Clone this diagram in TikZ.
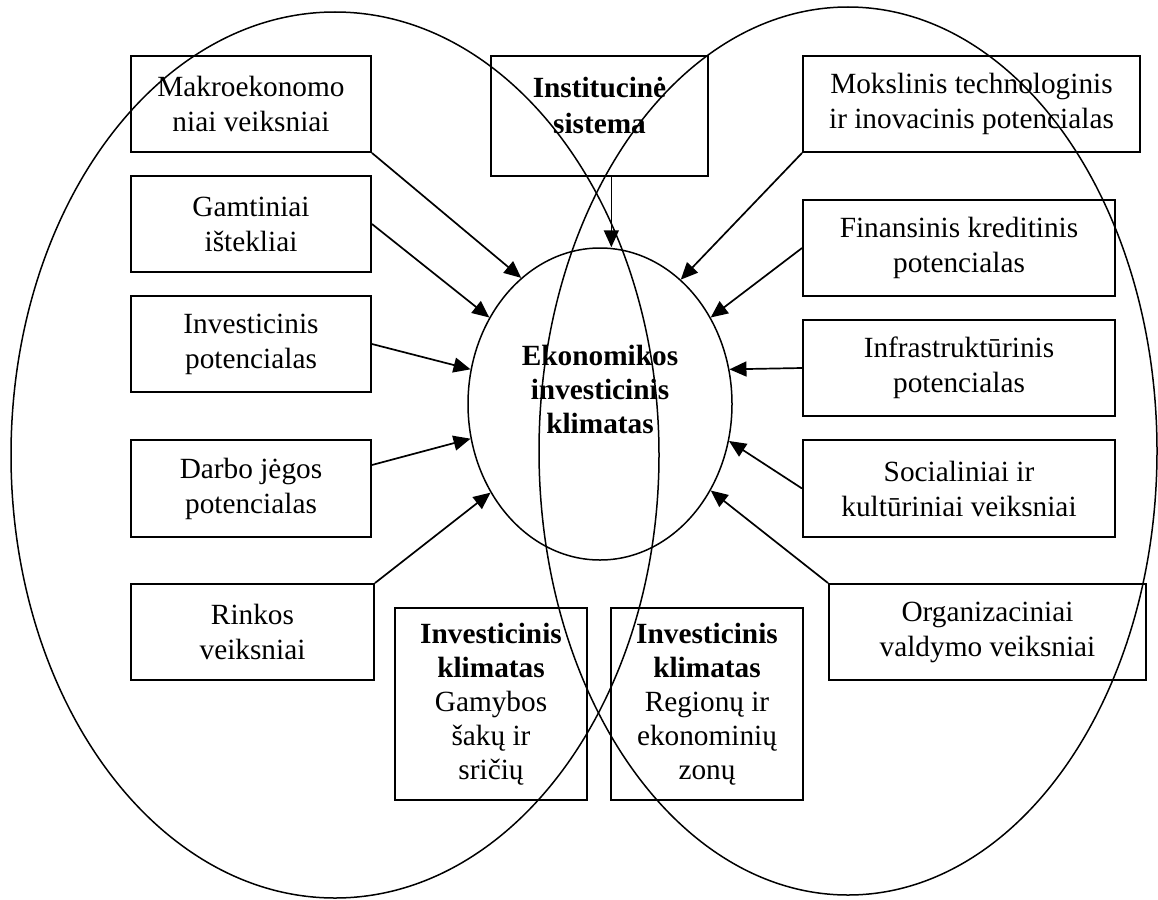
\documentclass[tikz,border=0pt]{standalone}
\usepackage{fontspec}
\setmainfont{Liberation Serif}
\usetikzlibrary{arrows.meta,shapes.geometric}
\begin{document}
\begin{tikzpicture}[x=1pt,y=-1pt,
  txt/.style={inner sep=0pt,align=center,font=\fontsize{29.3}{35}\selectfont},
  box/.style={draw,line width=1.9pt,txt},
  arr/.style={line width=1.7pt,-{Triangle[length=17pt,width=15pt]}},
  big/.style={draw,ellipse,line width=1.5pt,inner sep=0pt}]
\useasboundingbox (0,0) rectangle (1158,899);
% big ellipses
\node[big,minimum width=648pt,minimum height=886pt] (leftell) at (335,455) {};
\node[big,minimum width=618pt,minimum height=888pt] (rightell) at (848,451) {};
% central ellipse
\node[big,minimum width=264pt,minimum height=312pt] (eic) at (600,404) {};
\node[txt,font=\fontsize{29.3}{34}\selectfont\bfseries] (eictxt) at (600,389) {Ekonomikos\\investicinis\\klimatas};
% left boxes
\node[box,minimum width=240pt,minimum height=96pt] (makro) at (251,104) {Makroekonomo\\niai veiksniai};
\node[box,minimum width=240pt,minimum height=96pt] (gamt) at (251,224) {Gamtiniai\\ištekliai};
\node[box,minimum width=240pt,minimum height=96pt] (invpot) at (251,344) {Investicinis\\potencialas};
\node[box,minimum width=240pt,minimum height=97pt] (darbo) at (251,488.5) {Darbo jėgos\\potencialas};
\node[box,minimum width=243pt,minimum height=96pt] (rinkos) at (252.5,632) {Rinkos\\veiksniai};
% top middle
\node[box,minimum width=217pt,minimum height=120pt] (inst) at (599.5,116) {};
\node[txt,font=\fontsize{29.3}{36}\selectfont\bfseries] (insttxt) at (599.5,105) {Institucinė\\sistema};
% right boxes
\node[box,minimum width=337pt,minimum height=96pt] (moks) at (971.5,104) {Mokslinis technologinis\\ir inovacinis potencialas};
\node[box,minimum width=312pt,minimum height=96pt] (fin) at (959,248) {Finansinis kreditinis\\potencialas};
\node[box,minimum width=312pt,minimum height=96pt] (infra) at (959,368) {Infrastruktūrinis\\potencialas};
\node[box,minimum width=312pt,minimum height=97pt] (soc) at (959,488.5) {Socialiniai ir\\kultūriniai veiksniai};
\node[box,minimum width=317pt,minimum height=96pt] (org) at (987.5,632) {Organizaciniai\\valdymo veiksniai};
% bottom boxes
\node[box,minimum width=192pt,minimum height=192pt,font=\fontsize{29.3}{34}\selectfont] (ik1) at (491,704) {\textbf{Investicinis}\\\textbf{klimatas}\\Gamybos\\šakų ir\\sričių};
\node[box,minimum width=192pt,minimum height=192pt,font=\fontsize{29.3}{34}\selectfont] (ik2) at (707,704) {\textbf{Investicinis}\\\textbf{klimatas}\\Regionų ir\\ekonominių\\zonų};
% arrows
\draw[arr] (makro.south east) -- (eic.122);
\draw[arr] (gamt.east) -- (eic.142);
\draw[arr] (invpot.east) -- (eic.165);
\draw[arr] (darbo.11.5) -- (eic.195);
\draw[arr] (rinkos.north east) -- (eic.219);
\draw[arr] (inst.-79) -- (inst.-79 |- eic.north);
\draw[arr] (moks.south west) -- (eic.57);
\draw[arr] (fin.west) -- (eic.38);
\draw[arr] (infra.west) -- (eic.15);
\draw[arr] (soc.west) -- (eic.344);
\draw[arr] (org.north west) -- (eic.322);
\end{tikzpicture}
\end{document}
